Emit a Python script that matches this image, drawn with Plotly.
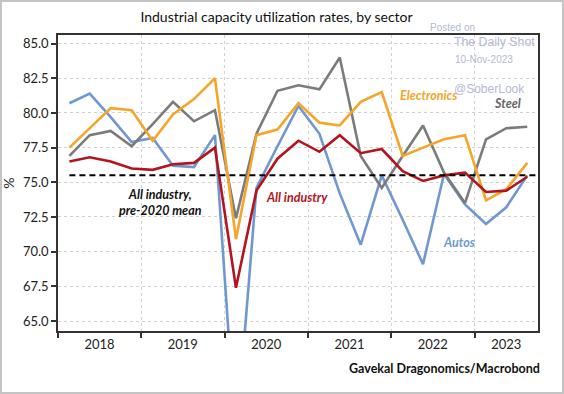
import plotly.graph_objects as go

# ---------------- data ----------------
quarters = [f"{y}Q{q}" for y in range(2018, 2024) for q in range(1, 5)][:23]

autos = [80.7, 81.4, 79.7, 77.9, 78.2, 76.2, 76.1, 78.4,
         56.3, 74.6, 77.6, 80.5, 78.5, 74.2, 70.5, 75.5,
         72.3, 69.1, 75.6, 73.4, 72.0, 73.2, 75.5]
electronics = [77.5, 78.9, 80.35, 80.2, 78.0, 79.9, 81.0, 82.5,
               70.9, 78.4, 78.8, 80.7, 79.3, 79.1, 80.8, 81.5,
               76.9, 77.5, 78.1, 78.4, 73.7, 74.5, 76.4]
steel = [76.9, 78.4, 78.7, 77.6, 79.2, 80.8, 79.4, 80.2,
         72.4, 78.5, 81.6, 82.0, 81.7, 84.0, 76.9, 74.6,
         76.9, 79.1, 75.7, 73.5, 78.1, 78.9, 79.0]
all_industry = [76.5, 76.8, 76.5, 76.0, 75.9, 76.3, 76.4, 77.5,
                67.4, 74.4, 76.7, 78.0, 77.2, 78.4, 77.1, 77.4,
                75.8, 75.1, 75.5, 75.7, 74.3, 74.4, 75.4]
pre2020_mean = 75.5

year_labels = ["2018", "2019", "2020", "2021", "2022", "2023"]
y_ticks = [65.0, 67.5, 70.0, 72.5, 75.0, 77.5, 80.0, 82.5, 85.0]

# quarter -> date (middle of the quarter's second month)
def q_to_date(q):
    y, n = int(q[:4]), int(q[-1])
    return f"{y}-{3 * (n - 1) + 2:02d}-20"

dates = [q_to_date(q) for q in quarters]
x_range = ["2018-01-01", "2023-10-06"]
year_starts = [f"{y}-01-01" for y in year_labels]
label_pos = [f"{y}-07-02" for y in year_labels[:-1]] + ["2023-05-20"]

# ---------------- style ----------------
C_AUTO = "#7098d0"
C_ELEC = "#f5a52a"
C_STEEL = "#7b7b7b"
C_ALL = "#b3151f"
FONT = "Lato"
W = 2.6

fig = go.Figure()
fig.add_trace(go.Scatter(x=dates, y=autos, mode="lines", name="Autos",
                         line=dict(color=C_AUTO, width=W)))
fig.add_trace(go.Scatter(x=dates, y=steel, mode="lines", name="Steel",
                         line=dict(color=C_STEEL, width=W)))
fig.add_trace(go.Scatter(x=dates, y=electronics, mode="lines", name="Electronics",
                         line=dict(color=C_ELEC, width=W)))
fig.add_trace(go.Scatter(x=dates, y=all_industry, mode="lines", name="All industry",
                         line=dict(color=C_ALL, width=W)))
fig.add_trace(go.Scatter(x=[dates[0], x_range[1]], y=[pre2020_mean, pre2020_mean],
                         mode="lines", name="pre-2020 mean",
                         line=dict(color="black", width=2, dash="6px,4px")))
# invisible trace to carry the year labels axis
fig.add_trace(go.Scatter(x=label_pos, y=[pre2020_mean] * len(label_pos), xaxis="x2",
                         mode="markers", marker=dict(opacity=0), hoverinfo="skip",
                         showlegend=False))

L, R, T, B = 58, 26, 35, 63
PW, PH = 564 - L - R, 394 - T - B

def px(x):
    return (x - L) / PW

def py(y):
    return (394 - B - y) / PH

grid = dict(showgrid=True, gridcolor="#d2d2d2", griddash="3px,3px", gridwidth=1)

fig.update_layout(
    width=564, height=394,
    margin=dict(l=L, r=R, t=T, b=B, autoexpand=False),
    paper_bgcolor="white", plot_bgcolor="white",
    showlegend=False,
    font=dict(family=FONT, size=13, color="#222"),
    title=dict(text="Industrial capacity utilization rates, by sector",
               x=276.5 / 564, xref="container", xanchor="center",
               y=1 - 17 / 394, yref="container", yanchor="middle",
               font=dict(family=FONT, size=14, color="#111")),
    xaxis=dict(type="date", range=x_range, tickvals=year_starts,
               ticktext=[""] * len(year_starts), ticks="outside", ticklen=5,
               tickcolor="#333", tickwidth=1.5, automargin=False,
               showline=True, linecolor="#333", linewidth=1.5, mirror=True,
               zeroline=False, **grid),
    xaxis2=dict(type="date", range=x_range, overlaying="x", anchor="y",
                side="bottom", tickvals=label_pos, ticktext=year_labels,
                ticks="", showgrid=False, showline=False, zeroline=False,
                automargin=False, ticklabelstandoff=4,
                tickfont=dict(family=FONT, size=13, color="#222")),
    yaxis=dict(range=[64.28, 85.62], tickvals=y_ticks, tickformat=".1f",
               ticks="outside", ticklen=5, tickcolor="#333", tickwidth=1.5,
               showline=True, linecolor="#333", linewidth=1.5, mirror=True,
               zeroline=False, automargin=False,
               title=dict(text="%", standoff=6, font=dict(size=14, color="#222")),
               tickfont=dict(family=FONT, size=13, color="#222"), **grid),
)

WM = "#b4b8d6"
ann = [
    dict(text="<b><i>All industry,<br>pre-2020 mean</i></b>", x=px(160), y=py(202),
         xanchor="center", yanchor="middle", font=dict(size=12.5, color="#111")),
    dict(text="<b><i>All industry</i></b>", x=px(264), y=py(197), xanchor="left",
         yanchor="middle", font=dict(size=12.5, color=C_ALL)),
    dict(text="<b><i>Electronics</i></b>", x=px(398), y=py(96), xanchor="left",
         yanchor="middle", font=dict(size=12.5, color=C_ELEC)),
    dict(text="<b><i>Steel</i></b>", x=px(523), y=py(103), xanchor="right",
         yanchor="middle", font=dict(size=12.5, color="#666")),
    dict(text="<b><i>Autos</i></b>", x=px(441), y=py(242), xanchor="left",
         yanchor="middle", font=dict(size=12.5, color=C_AUTO)),
    dict(text="<b>Gavekal Dragonomics/Macrobond</b>", x=px(542), y=py(368),
         xanchor="right", yanchor="middle", font=dict(size=12.5, color="#111")),
    # watermark
    dict(text="Posted on", x=px(428), y=py(27), xanchor="left", yanchor="middle",
         font=dict(family="Liberation Sans", size=10, color=WM)),
    dict(text="The Daily Shot", x=px(452), y=py(42), xanchor="left", yanchor="middle",
         font=dict(family="Liberation Sans", size=12.3, color=WM)),
    dict(text="10-Nov-2023", x=px(453), y=py(60), xanchor="left", yanchor="middle",
         font=dict(family="Liberation Sans", size=10, color=WM)),
    dict(text="@SoberLook", x=px(452), y=py(89), xanchor="left", yanchor="middle",
         font=dict(family="Liberation Sans", size=12, color=WM)),
]
for a in ann:
    a.update(xref="paper", yref="paper", showarrow=False)
    a["font"].setdefault("family", FONT)
fig.update_layout(annotations=ann)

# light frame round the whole picture
fig.add_shape(type="rect", xref="paper", yref="paper",
              x0=px(1), x1=px(563), y0=py(393), y1=py(1),
              line=dict(color="#c4c4c4", width=2), fillcolor="rgba(0,0,0,0)",
              layer="below")

fig.write_html("out.html", config={"displayModeBar": False},
               post_script="document.body.style.margin='0';")
